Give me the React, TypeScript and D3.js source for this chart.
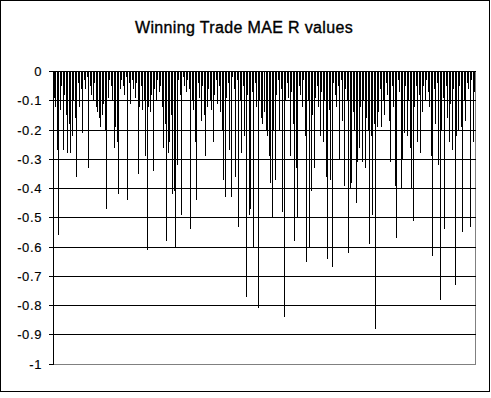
import React from "react";
import * as d3 from "d3";

const chartTitle = "Winning Trade MAE R values";
const yTickValues = [0, -0.1, -0.2, -0.3, -0.4, -0.5, -0.6, -0.7, -0.8, -0.9, -1];
const yTickLabels = ["0", "-0.1", "-0.2", "-0.3", "-0.4", "-0.5", "-0.6", "-0.7", "-0.8", "-0.9", "-1"];

const maeValues = [
  -0.09, -0.12, -0.27, -0.56, -0.13, -0.05, -0.27, -0.08, -0.15, -0.28,
  -0.18, -0.28, -0.22, -0.10, -0.16, -0.36, -0.04, -0.12, -0.06, -0.21,
  -0.03, -0.06, -0.02, -0.33, -0.05, -0.08, -0.10, -0.04, -0.12, -0.14,
  -0.16, -0.19, -0.15, -0.11, -0.20, -0.47, -0.09, -0.03, -0.05, -0.10,
  -0.26, -0.19, -0.24, -0.42, -0.06, -0.03, -0.05, -0.08, -0.02, -0.44,
  -0.04, -0.11, -0.03, -0.06, -0.09, -0.04, -0.35, -0.12, -0.05, -0.13,
  -0.10, -0.29, -0.61, -0.12, -0.14, -0.08, -0.34, -0.06, -0.10, -0.03,
  -0.07, -0.05, -0.12, -0.26, -0.18, -0.58, -0.28, -0.24, -0.15, -0.42,
  -0.41, -0.60, -0.32, -0.03, -0.08, -0.49, -0.02, -0.05, -0.07, -0.03,
  -0.06, -0.54, -0.10, -0.13, -0.24, -0.44, -0.04, -0.09, -0.17, -0.05,
  -0.15, -0.29, -0.12, -0.06, -0.10, -0.13, -0.24, -0.08, -0.03, -0.11,
  -0.05, -0.14, -0.20, -0.37, -0.43, -0.09, -0.04, -0.27, -0.43, -0.02,
  -0.06, -0.36, -0.03, -0.53, -0.10, -0.28, -0.05, -0.22, -0.77, -0.08,
  -0.49, -0.47, -0.07, -0.60, -0.04, -0.12, -0.81, -0.10, -0.16, -0.18,
  -0.14, -0.20, -0.22, -0.29, -0.38, -0.50, -0.20, -0.37, -0.08, -0.03,
  -0.20, -0.06, -0.48, -0.84, -0.10, -0.04, -0.09, -0.29, -0.07, -0.18,
  -0.58, -0.33, -0.50, -0.05, -0.08, -0.12, -0.03, -0.22, -0.65, -0.10,
  -0.60, -0.41, -0.15, -0.33, -0.09, -0.05, -0.12, -0.22, -0.07, -0.24,
  -0.10, -0.36, -0.64, -0.13, -0.37, -0.67, -0.04, -0.08, -0.12, -0.05,
  -0.30, -0.03, -0.17, -0.39, -0.06, -0.10, -0.62, -0.40, -0.38, -0.14,
  -0.20, -0.45, -0.31, -0.26, -0.12, -0.31, -0.10, -0.33, -0.16, -0.20,
  -0.59, -0.22, -0.49, -0.18, -0.88, -0.19, -0.14, -0.06, -0.19, -0.10,
  -0.15, -0.04, -0.08, -0.17, -0.31, -0.05, -0.12, -0.39, -0.57, -0.03,
  -0.07, -0.40, -0.30, -0.21, -0.05, -0.22, -0.10, -0.26, -0.40, -0.51,
  -0.12, -0.05, -0.24, -0.08, -0.28, -0.14, -0.05, -0.10, -0.03, -0.07,
  -0.12, -0.29, -0.63, -0.06, -0.18, -0.04, -0.32, -0.78, -0.20, -0.09,
  -0.54, -0.05, -0.16, -0.24, -0.11, -0.27, -0.06, -0.73, -0.22, -0.20,
  -0.05, -0.19, -0.55, -0.10, -0.17, -0.04, -0.06, -0.53, -0.03, -0.24,
  -0.07,
];

const W = 491;
const H = 398;
const FONT = "'Liberation Sans', Arial, Helvetica, sans-serif";

export default function App() {
  const left = 53;
  const right = 475;
  const top = 71.5;
  const bottom = 364;

  const x = d3
    .scaleBand<number>()
    .domain(maeValues.map((_, i) => i))
    .range([left + 0.5, right + 0.5]);
  const y = d3.scaleLinear().domain([-1, 0]).range([bottom, top]);
  const bw = x.bandwidth();
  const snap = (v: number) => Math.floor(v) + 0.5;

  return (
    <div style={{ position: "fixed", left: 0, top: 0, width: W, height: H, background: "#fff" }}>
      <svg width={W} height={H} style={{ display: "block" }} fontFamily={FONT}>
        <rect x={0} y={0} width={W} height={H} fill="#fff" />
        <rect x={0.5} y={0.5} width={489} height={391} fill="#fff" stroke="#000" strokeWidth={1} shapeRendering="crispEdges" />
        <text x={244} y={33} textAnchor="middle" fontSize={16} letterSpacing={0.35} fill="#000" stroke="#000" strokeWidth={0.35}>
          {chartTitle}
        </text>
        {/* plot border (grey) */}
        <rect x={left + 0.5} y={snap(y(0))} width={right - left} height={snap(y(-1)) - snap(y(0))} fill="none" stroke="#808080" strokeWidth={1} shapeRendering="crispEdges" />
        {/* gridlines */}
        {yTickValues.slice(0, 10).map((t) => (
          <line key={"g" + t} x1={left} x2={right + 0.5} y1={snap(y(t))} y2={snap(y(t))} stroke="#000" strokeWidth={1} shapeRendering="crispEdges" />
        ))}
        {/* bars */}
        {maeValues.map((v, i) => {
          const bx = Math.floor((x(i) as number) + bw / 2);
          const y0 = Math.floor(y(0));
          const y1 = Math.round(y(v));
          return <rect key={i} x={bx} y={y0} width={1} height={Math.max(1, y1 - y0)} fill="#000" shapeRendering="crispEdges" />;
        })}
        {/* y axis line and ticks */}
        <line x1={left + 0.5} x2={left + 0.5} y1={snap(y(0))} y2={snap(y(-1))} stroke="#000" strokeWidth={1} shapeRendering="crispEdges" />
        {yTickValues.map((t, k) => (
          <g key={"t" + t}>
            <line x1={left - 4} x2={left + 0.5} y1={snap(y(t))} y2={snap(y(t))} stroke="#000" strokeWidth={1} shapeRendering="crispEdges" />
            <text x={42} y={y(t)} dy="0.35em" textAnchor="end" fontSize={13} letterSpacing={0.6} fill="#000" stroke="#000" strokeWidth={0.15}>
              {yTickLabels[k]}
            </text>
          </g>
        ))}
      </svg>
    </div>
  );
}
